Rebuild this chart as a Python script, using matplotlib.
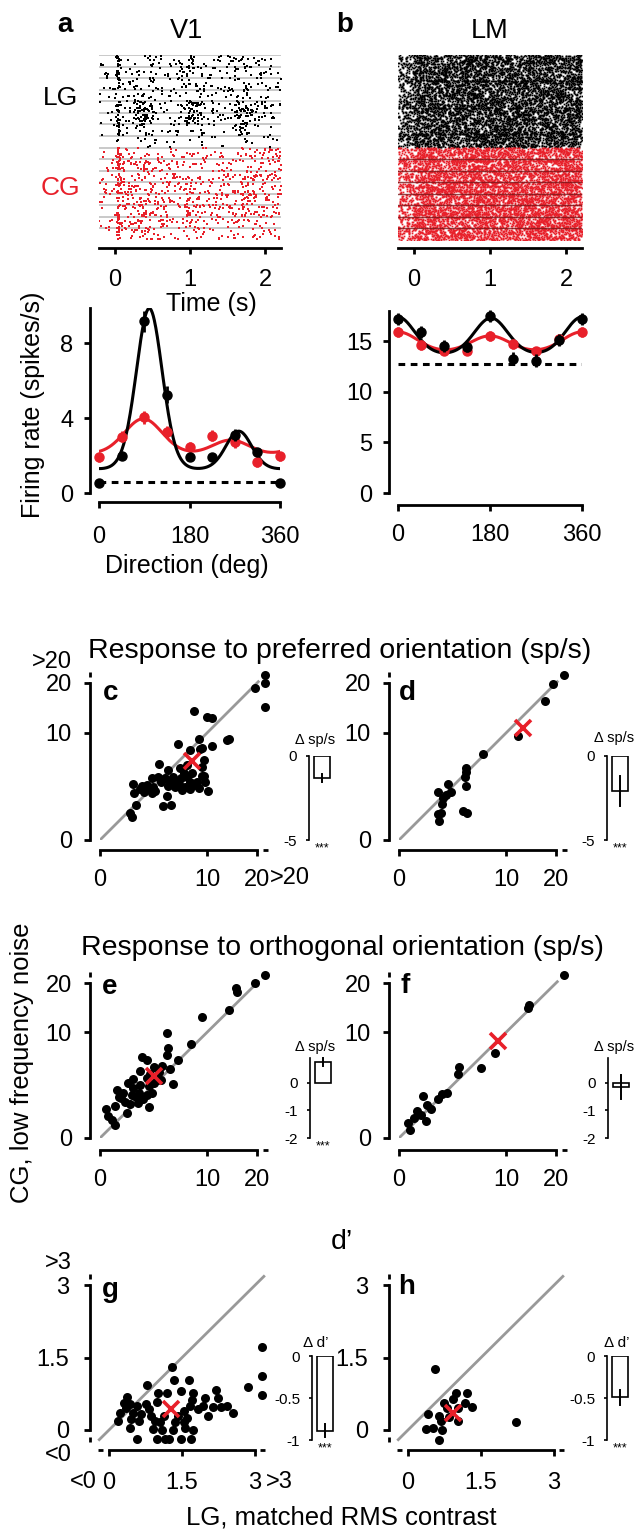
import numpy as np
import matplotlib
matplotlib.use('Agg')
import matplotlib.pyplot as plt
from matplotlib.transforms import blended_transform_factory, ScaledTranslation

plt.rcParams['font.family'] = ['Liberation Sans', 'DejaVu Sans']

RED = '#e8202a'
GRAY = '#999999'
W, H = 636, 1531

# ---------------- raster profiles (a: V1, b: LM), 8 directions per condition ----------------
T_MIN, T_MAX = -0.21, 2.21
BURST_T = [0.38, 1.03, 1.72]
ONSET_T = 0.05
v1_lg_base = [2.8, 3.0, 2.6, 1.8, 2.0, 2.0, 1.8, 0.9]
v1_lg_burst = [1.0, 1.5, 1.0, 2.0, 15.0, 12.0, 3.0, 1.0]
v1_lg_onset = [25, 25, 25, 25, 25, 25, 25, 8]
v1_cg_base = [3.3, 3.8, 3.8, 4.2, 4.2, 3.8, 3.8, 2.8]
v1_cg_burst = [0.5, 0.8, 1.5, 2.0, 3.0, 3.0, 2.0, 1.0]
v1_cg_onset = [30, 30, 30, 30, 30, 30, 30, 30]
lm_lg_base = [34, 34, 34, 34, 34, 34, 34, 34]
lm_cg_base = [34, 34, 34, 34, 34, 34, 34, 34]

# ---------------- tuning curves ----------------
directions = [0, 45, 90, 135, 180, 225, 270, 315, 360]
v1_lg_rate = [0.55, 2.0, 9.15, 5.25, 1.9, 1.9, 3.1, 2.2, 0.55]
v1_lg_err = [0.1, 0.15, 0.55, 0.45, 0.2, 0.15, 0.3, 0.2, 0.1]
v1_cg_rate = [1.9, 3.0, 4.05, 3.25, 2.45, 3.05, 2.7, 1.65, 1.95]
v1_cg_err = [0.25, 0.3, 0.35, 0.3, 0.25, 0.3, 0.3, 0.25, 0.25]
v1_spont = 0.6
lm_lg_rate = [17.2, 15.9, 14.5, 14.4, 17.5, 13.3, 13.1, 15.1, 17.2]
lm_lg_err = [0.6, 0.6, 0.6, 0.5, 0.6, 0.6, 0.6, 0.6, 0.6]
lm_cg_rate = [15.9, 14.65, 14.0, 14.0, 15.5, 14.7, 14.0, 15.2, 15.9]
lm_cg_err = [0.5, 0.5, 0.4, 0.4, 0.5, 0.5, 0.4, 0.5, 0.5]
lm_spont = 12.8
# double von Mises fit parameters: base, amp1, mu1, amp2, mu2, kappa
v1_lg_fit = [1.25, 8.6, 100, 2.05, 278, 5.0]
v1_cg_fit = [1.9, 2.05, 88, 0.9, 262, 2.2]
lm_lg_fit = [13.5, 3.9, 0, 3.8, 182, 3.0]
lm_cg_fit = [13.6, 2.3, 0, 1.9, 180, 2.0]

# ---------------- scatter panels (LG, CG) ----------------
c_pts = [(22, 22), (22, 19.9), (19.6, 18.9), (22, 14.7), (7.8, 13.9), (9.9, 12.9), (10.9, 12.6),
         (13.6, 8.8), (14.0, 9.0), (8.6, 8.9), (5.6, 8.2), (9.1, 7.5), (10.8, 7.9), (7.3, 7.3),
         (8.8, 7.4), (3.4, 5.4), (4.4, 4.6), (5.9, 4.8), (6.8, 5.2), (9.1, 5.0), (6.4, 4.2),
         (7.5, 4.2), (9.1, 3.9), (9.7, 3.3), (10.1, 2.4), (8.6, 2.7), (7.3, 2.6), (5.0, 3.8),
         (5.2, 2.8), (4.2, 2.0), (3.8, 1.25), (4.7, 1.3), (3.3, 3.8), (2.7, 3.7), (2.2, 3.0),
         (1.7, 2.6), (1.2, 3.1), (1.24, 2.2), (1.4, 1.3), (0.98, 0.8), (1.09, 0.63), (1.8, 2.9),
         (2.4, 2.6), (2.8, 2.8), (3.0, 2.4), (3.6, 3.3), (4.0, 3.7), (4.6, 3.2), (5.7, 3.1),
         (6.0, 3.7), (6.8, 3.8), (7.2, 3.3), (6.6, 2.8), (7.8, 3.0), (8.3, 3.3), (9.5, 3.9),
         (9.4, 5.9), (2.7, 2.2), (2.0, 2.3), (5.2, 3.3), (4.4, 2.9), (6.1, 2.5)]
d_pts = [(22, 22), (19.3, 19.8), (17.6, 16.1), (12.0, 9.4), (6.4, 6.7), (4.3, 4.9), (4.1, 3.8),
         (4.3, 2.9), (4.4, 0.83), (3.9, 0.9), (2.4, 3.1), (2.7, 2.3), (2.2, 2.1), (1.6, 2.3),
         (1.9, 1.4), (1.8, 0.83), (1.7, 0.43), (1.6, 0.75), (4.2, 4.4), (2.0, 1.8)]
e_pts = [(22, 22), (19.6, 20.0), (15.5, 18.8), (15.6, 17.9), (13.9, 14.1), (9.2, 12.7), (7.4, 8.1),
         (4.2, 9.9), (5.6, 5.8), (4.4, 7.4), (4.3, 6.4), (1.8, 6.2), (2.2, 5.7), (3.7, 5.0),
         (4.6, 4.6), (5.0, 2.9), (2.9, 4.8), (1.7, 4.3), (3.4, 4.2), (3.2, 3.3), (3.6, 3.3),
         (2.9, 3.0), (0.85, 3.0), (1.2, 2.6), (0.36, 2.4), (2.4, 1.05), (0.79, 0.72), (0.06, 0.96),
         (0.09, 0.58), (0.18, 0.38), (0.29, 0.22), (1.7, 2.85), (2.4, 2.7), (2.7, 2.1), (2.2, 1.95),
         (1.6, 2.1), (1.1, 1.95), (0.6, 2.1), (0.43, 1.8), (0.69, 1.44), (1.0, 1.3), (1.5, 1.35),
         (0.29, 1.15), (0.52, 1.7), (1.35, 1.8), (1.9, 1.6), (2.5, 4.0), (1.2, 3.5), (2.2, 3.6)]
f_pts = [(22, 22), (14.2, 15.2), (13.9, 14.5), (8.2, 6.7), (6.2, 4.7), (3.5, 4.8), (3.4, 4.0),
         (2.3, 2.1), (1.9, 2.0), (1.6, 1.6), (0.65, 1.9), (0.85, 1.2), (1.1, 0.96), (0.40, 0.81),
         (0.27, 0.48), (0.79, 0.35), (0.10, 0.28), (0.16, 0.09), (0.55, 0.6)]
g_pts = [(1.30, 1.31), (0.79, 0.93), (1.33, 1.03), (1.64, 1.03), (2.86, 0.90), (3.15, 1.71),
         (3.15, 1.12), (3.15, 0.73), (0.36, 0.68), (1.0, 0.76), (1.2, 0.76), (1.48, 0.81),
         (1.72, 0.77), (1.70, 0.62), (1.97, 0.67), (2.2, 0.83), (2.24, 0.67), (2.42, 0.5),
         (2.3, 0.47), (2.55, 0.36), (2.13, 0.47), (1.93, 0.5), (2.03, 0.28), (1.82, 0.43),
         (1.66, 0.5), (1.53, 0.40), (1.41, 0.29), (0.99, 0.57), (0.83, 0.43), (0.75, 0.53),
         (0.58, 0.5), (0.43, 0.53), (0.50, 0.36), (0.66, 0.33), (0.22, 0.35), (0.18, 0.19),
         (0.46, 0.23), (0.62, 0.19), (0.87, 0.29), (0.94, 0.19), (1.12, 0.29), (1.05, 0.16),
         (0.43, 0.04), (0.91, 0.02), (1.08, 0.01), (1.31, 0.01), (1.56, 0.05), (1.72, 0.01),
         (1.53, 0.16), (0.58, -0.19), (0.99, -0.19), (1.14, -0.19), (1.24, -0.19), (1.48, -0.19),
         (1.68, -0.19), (1.60, 0.25), (1.35, 0.16), (0.35, 0.45), (0.30, 0.55)]
h_pts = [(0.56, 1.27), (0.99, 0.77), (1.22, 0.76), (0.93, 0.65), (0.74, 0.55), (1.18, 0.55),
         (1.32, 0.48), (1.03, 0.45), (0.41, 0.33), (0.64, 0.29), (0.85, 0.27), (1.03, 0.19),
         (0.68, 0.19), (0.36, 0.02), (0.52, 0.05), (0.70, 0.01), (0.64, -0.2), (2.21, 0.17),
         (0.8, 0.45)]
means = {'c': (7.5, 5.8), 'd': (13.1, 10.8), 'e': (2.9, 3.8), 'f': (8.6, 8.6),
         'g': (1.28, 0.43), 'h': (0.93, 0.36)}
# inset bars: mean difference and error
inset_mean = {'c': -1.3, 'd': -2.1, 'e': 0.76, 'f': -0.15, 'g': -0.89, 'h': -0.49}
inset_err = {'c': 0.25, 'd': 0.9, 'e': 0.15, 'f': 0.42, 'g': 0.08, 'h': 0.09}
inset_sig = {'c': '***', 'd': '***', 'e': '***', 'f': '', 'g': '***', 'h': '***'}

fig = plt.figure(figsize=(W / 100, H / 100), dpi=100)
TICK_FS = 17


def add_ax(x0, y0, x1, y1):
    return fig.add_axes([x0 / W, 1 - y1 / H, (x1 - x0) / W, (y1 - y0) / H])


def ftext(x, y, s, **kw):
    kw.setdefault('ha', 'center')
    kw.setdefault('va', 'center')
    fig.text(x / W, 1 - y / H, s, **kw)


def pt(px):
    return px * 0.72


def style(ax, left_out, bottom_out, lw=2.0, xpad=10, ypad=9, size=TICK_FS):
    for s in ['top', 'right']:
        ax.spines[s].set_visible(False)
    ax.spines['left'].set_position(('outward', pt(left_out)))
    ax.spines['bottom'].set_position(('outward', pt(bottom_out)))
    ax.spines['left'].set_linewidth(lw)
    ax.spines['bottom'].set_linewidth(lw)
    ax.tick_params(direction='out', length=4, width=lw, labelsize=size)
    ax.tick_params(axis='x', pad=xpad)
    ax.tick_params(axis='y', pad=ypad)
    ax.patch.set_visible(False)


def ydash(ax, v0, v1, out_px, lw=2.0):
    tr = blended_transform_factory(ax.transAxes, ax.transData) + \
        ScaledTranslation(-out_px / 100, 0, fig.dpi_scale_trans)
    ax.plot([0, 0], [v0, v1], color='k', lw=lw, transform=tr, clip_on=False,
            solid_capstyle='butt')


def xdash(ax, v0, v1, out_px, lw=2.0):
    tr = blended_transform_factory(ax.transData, ax.transAxes) + \
        ScaledTranslation(0, -out_px / 100, fig.dpi_scale_trans)
    ax.plot([v0, v1], [0, 0], color='k', lw=lw, transform=tr, clip_on=False,
            solid_capstyle='butt')


# ---------------- rasters ----------------
def hash01(k):
    # splitmix64 mixing: a fixed scatter of spike positions inside the density
    z = k.astype(np.uint64) + np.uint64(0x9E3779B97F4A7C15)
    z = (z ^ (z >> np.uint64(30))) * np.uint64(0xBF58476D1CE4E5B9)
    z = (z ^ (z >> np.uint64(27))) * np.uint64(0x94D049BB133111EB)
    z = z ^ (z >> np.uint64(31))
    return (z >> np.uint64(11)).astype(np.float64) / 2.0 ** 53


def draw_raster(ax, block0, base, burst, onset, n_trials, color, ms, tag, pre=0.6, burst_sd=0.085):
    tg = np.linspace(T_MIN, T_MAX, 2000)
    for b in range(len(base)):
        rate = base[b] * np.where(tg < 0, pre, 1.0)
        for tb in BURST_T:
            rate = rate + burst[b] * np.exp(-0.5 * ((tg - tb) / burst_sd) ** 2)
        rate = rate + onset[b] * np.exp(-0.5 * ((tg - ONSET_T) / 0.012) ** 2)
        cdf = np.cumsum(rate)
        cdf = cdf / cdf[-1]
        n = int(round(np.trapezoid(rate, tg) * n_trials))
        k = np.arange(n, dtype=np.int64) * 2 + 100003 * (block0 + b) + 10000019 * tag
        u1 = hash01(k)
        u2 = hash01(k + 1)
        t = np.interp(u1, cdf, tg)
        row = np.floor(u2 * n_trials)
        y = block0 + b + (row + 0.5) / n_trials
        ax.plot(t, y, 's', ms=ms, mew=0, color=color, zorder=2)


def raster_axes(x0, x1):
    ax = add_ax(x0, 55, x1, 240)
    ax.set_xlim(T_MIN, T_MAX)
    ax.set_ylim(16, 0)
    for s in ['top', 'right', 'left']:
        ax.spines[s].set_visible(False)
    ax.spines['bottom'].set_position(('outward', pt(8)))
    ax.spines['bottom'].set_linewidth(2)
    ax.set_yticks([])
    ax.set_xticks([0, 1, 2])
    ax.tick_params(axis='x', direction='out', length=4, width=2, labelsize=TICK_FS, pad=11)
    ax.patch.set_visible(False)
    return ax


ax = raster_axes(99, 281)
for yl in range(16):
    ax.axhline(yl, color='#bbbbbb', lw=1.1, zorder=1)
draw_raster(ax, 0, v1_lg_base, v1_lg_burst, v1_lg_onset, 10, 'k', 1.5, 1)
draw_raster(ax, 8, v1_cg_base, v1_cg_burst, v1_cg_onset, 10, RED, 1.5, 5)

ax = raster_axes(398, 582)
zero = [0] * 8
draw_raster(ax, 0, lm_lg_base, zero, zero, 12, 'k', 1.25, 3)
draw_raster(ax, 8, lm_cg_base, zero, zero, 12, RED, 1.25, 7)
for yl in range(9, 16):
    ax.axhline(yl, color='#7a1518', lw=1.0, alpha=0.8, zorder=3)


# ---------------- tuning ----------------
def vm_fit(p, th):
    r = np.deg2rad(th)
    return (p[0] + p[1] * np.exp(p[5] * (np.cos(r - np.deg2rad(p[2])) - 1))
            + p[3] * np.exp(p[5] * (np.cos(r - np.deg2rad(p[4])) - 1)))


def tuning(ax, lg, lge, cg, cge, flg, fcg, spont):
    th = np.linspace(0, 360, 361)
    ax.plot(th, vm_fit(fcg, th), color=RED, lw=2.2, zorder=2)
    ax.plot(th, vm_fit(flg, th), color='k', lw=2.2, zorder=3)
    ax.errorbar(directions, cg, yerr=cge, fmt='o', color=RED, ms=6.5, elinewidth=2,
                capsize=0, zorder=4, clip_on=False)
    ax.errorbar(directions, lg, yerr=lge, fmt='o', color='k', ms=6.5, elinewidth=2,
                capsize=0, zorder=5, clip_on=False)
    ax.plot([0, 360], [spont, spont], color='k', lw=2.2, ls=(0, (2.2, 1.8)), zorder=1)
    ax.set_xlim(0, 360)
    ax.set_xticks([0, 180, 360])


ax = add_ax(99, 308, 280, 493)
tuning(ax, v1_lg_rate, v1_lg_err, v1_cg_rate, v1_cg_err, v1_lg_fit, v1_cg_fit, v1_spont)
ax.set_ylim(0, 9.87)
ax.set_yticks([0, 4, 8])
style(ax, 9, 9, xpad=13, ypad=8)
ax.spines['left'].set_bounds(0, 9.87)

ax = add_ax(398, 311, 582, 493)
tuning(ax, lm_lg_rate, lm_lg_err, lm_cg_rate, lm_cg_err, lm_lg_fit, lm_cg_fit, lm_spont)
ax.set_ylim(0, 18)
ax.set_yticks([0, 5, 10, 15])
style(ax, 9, 12, xpad=10, ypad=8)


# ---------------- scatter ----------------
P = 0.55


def fwd(v):
    return np.sign(v) * np.abs(v) ** P


def inv(v):
    return np.sign(v) * np.abs(v) ** (1 / P)


def scatter_panel(x0, yb, ysp, pts, key, bottom_out):
    wpx = 157 * fwd(23) / fwd(20)
    hpx = ysp * fwd(23) / fwd(20)
    ax = add_ax(x0, yb - hpx, x0 + wpx, yb)
    ax.set_xscale('function', functions=(fwd, inv))
    ax.set_yscale('function', functions=(fwd, inv))
    ax.set_xlim(0, 23)
    ax.set_ylim(0, 23)
    ax.plot([0, 20.3], [0, 20.3], color=GRAY, lw=2, zorder=1)
    xs, ys = np.array(pts).T
    ax.plot(xs, ys, 'o', color='k', ms=6.5, mew=0, zorder=2, clip_on=False)
    mx, my = means[key]
    ax.plot(mx, my, 'x', color=RED, ms=11, mew=2.6, zorder=3)
    ax.set_xticks([0, 10, 20])
    ax.set_yticks([0, 10, 20])
    style(ax, 10, bottom_out)
    ax.spines['left'].set_bounds(0, 20)
    ax.spines['bottom'].set_bounds(0, 20)
    ydash(ax, 21.4, 22.6, 10)
    xdash(ax, 21.4, 22.6, bottom_out)
    return ax


def dprime_panel(x0, pts, key):
    ax = add_ax(x0 - 0.3 * 48.7, 1430 - 3.3 * 48.3, x0 + 3.3 * 48.7, 1430 + 0.3 * 48.3)
    ax.set_xlim(-0.3, 3.3)
    ax.set_ylim(-0.3, 3.3)
    ax.plot([-0.2, 3.18], [-0.2, 3.18], color=GRAY, lw=2, zorder=1)
    xs, ys = np.array(pts).T
    ax.plot(xs, ys, 'o', color='k', ms=6.5, mew=0, zorder=2, clip_on=False)
    mx, my = means[key]
    ax.plot(mx, my, 'x', color=RED, ms=11, mew=2.6, zorder=3)
    ax.set_xticks([0, 1.5, 3])
    ax.set_yticks([0, 1.5, 3])
    ax.set_xticklabels(['0', '1.5', '3'])
    ax.set_yticklabels(['0', '1.5', '3'])
    style(ax, 4.4, 5.5, xpad=12, ypad=11)
    ax.spines['left'].set_bounds(0, 3)
    ax.spines['bottom'].set_bounds(0, 3)
    ydash(ax, -0.25, -0.15, 4.4)
    ydash(ax, 3.13, 3.23, 4.4)
    xdash(ax, -0.23, -0.13, 5.5)
    xdash(ax, 3.10, 3.20, 5.5)
    return ax


def inset(x0, y0, y1, key, ylim, ticks, labels):
    ax = add_ax(x0, y0, x0 + 26, y1)
    ax.set_xlim(0, 1)
    ax.set_ylim(*ylim)
    for s in ['top', 'right', 'bottom']:
        ax.spines[s].set_visible(False)
    ax.spines['left'].set_linewidth(1.2)
    ax.set_xticks([])
    ax.set_yticks(ticks)
    ax.set_yticklabels(labels)
    ax.tick_params(axis='y', direction='out', length=2.5, width=1.2, labelsize=11, pad=6)
    ax.patch.set_visible(False)
    m, e = inset_mean[key], inset_err[key]
    ax.bar([0.5], [m], width=0.62, color='white', edgecolor='k', lw=1.2, zorder=2)
    ax.plot([0.5, 0.5], [m - e, m + e], color='k', lw=1.4, zorder=3, clip_on=False)
    if inset_sig[key]:
        ax.text(0.5, -0.03, inset_sig[key], transform=ax.transAxes, fontsize=9,
                ha='center', va='top')
    return ax


scatter_panel(100, 840, 157, c_pts, 'c', 10)
scatter_panel(399, 840, 157, d_pts, 'd', 10)
scatter_panel(100, 1138, 155, e_pts, 'e', 12)
scatter_panel(399, 1138, 155, f_pts, 'f', 12)
dprime_panel(109, g_pts, 'g')
dprime_panel(408, h_pts, 'h')

inset(309, 756, 840, 'c', (-5, 0), [0, -5], ['0', '-5'])
inset(607, 756, 840, 'd', (-5, 0), [0, -5], ['0', '-5'])
inset(310, 1058, 1138, 'e', (-2, 0.9), [0, -1, -2], ['0', '-1', '-2'])
inset(608, 1058, 1138, 'f', (-2, 0.9), [0, -1, -2], ['0', '-1', '-2'])
inset(312, 1356, 1440, 'g', (-1, 0), [0, -0.5, -1], ['0', '-0.5', '-1'])
inset(607, 1356, 1440, 'h', (-1, 0), [0, -0.5, -1], ['0', '-0.5', '-1'])

DSP = '\u0394 sp/s'
DD = '\u0394 d\u2019'
ftext(295, 740, DSP, fontsize=10.5, ha='left')
ftext(594, 738, DSP, fontsize=10.5, ha='left')
ftext(295, 1047, DSP, fontsize=10.5, ha='left')
ftext(594, 1047, DSP, fontsize=10.5, ha='left')
ftext(316, 1343, DD, fontsize=11)
ftext(617, 1343, DD, fontsize=11)

# ---------------- figure texts ----------------
ftext(65, 25, 'a', fontsize=20, fontweight='bold')
ftext(345, 25, 'b', fontsize=20, fontweight='bold')
ftext(187, 31, 'V1', fontsize=19.5)
ftext(490, 31, 'LM', fontsize=19.5)
ftext(60, 98, 'LG', fontsize=19)
ftext(60, 188, 'CG', fontsize=19, color=RED)
ftext(211, 304, 'Time (s)', fontsize=18)
ftext(33, 405, 'Firing rate (spikes/s)', fontsize=18, rotation=90)
ftext(187, 566, 'Direction (deg)', fontsize=18)
ftext(340, 651, 'Response to preferred orientation (sp/s)', fontsize=20.5)
ftext(342, 948, 'Response to orthogonal orientation (sp/s)', fontsize=20.5)
ftext(342, 1242, 'd\u2019', fontsize=20.5)
ftext(22, 1063, 'CG, low frequency noise', fontsize=18.5, rotation=90)
ftext(341, 1518, 'LG, matched RMS contrast', fontsize=18.5)
for lx, ly, s in [(111, 693, 'c'), (407, 693, 'd'), (110, 987, 'e'), (405, 986, 'f'),
                  (110, 1290, 'g'), (407, 1287, 'h')]:
    ftext(lx, ly, s, fontsize=20, fontweight='bold')
ftext(72, 662, '>20', fontsize=TICK_FS, ha='right')
ftext(270, 878, '>20', fontsize=TICK_FS, ha='left')
ftext(72, 1263, '>3', fontsize=TICK_FS, ha='right')
ftext(72, 1455, '<0', fontsize=TICK_FS, ha='right')
ftext(97, 1482, '<0', fontsize=TICK_FS, ha='right')
ftext(266, 1482, '>3', fontsize=TICK_FS, ha='left')

fig.savefig('out.png', dpi=100)
